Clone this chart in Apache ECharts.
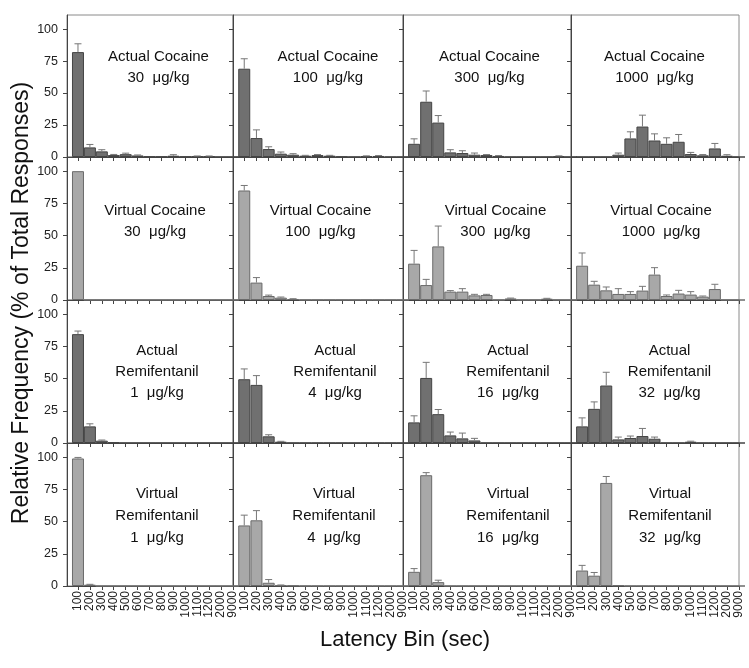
<!DOCTYPE html>
<html><head><meta charset="utf-8">
<script src="https://cdn.jsdelivr.net/npm/echarts@6/dist/echarts.min.js"></script>
<style>html,body{margin:0;padding:0;background:#fff}#c{width:749px;height:668px}</style>
</head><body><div id="c"></div>
<script>
const categories = ['100','200','300','400','500','600','700','800','900','1000','1100','1200','2000','9000'];
const yTicks = [0, 25, 50, 75, 100];

// Row 1: Actual Cocaine
const actualCocaine30     = [82, 7.5, 4.4, 1.5, 2.2, 1.2, 0.4, 0.3, 1, 0.3, 0.5, 0.5, 0, 0];
const actualCocaine30Err  = [6.5, 2.3, 1.3, 0.5, 0.8, 0.4, 0, 0, 0.8, 0, 0.3, 0.3, 0, 0];
const actualCocaine100    = [69, 14.8, 6.2, 2.6, 1.8, 1, 1.5, 1, 0.3, 0, 0.6, 0.8, 0, 0];
const actualCocaine100Err = [7.8, 6.4, 1.8, 1.3, 0.8, 0.3, 0.4, 0.3, 0, 0, 0.3, 0.3, 0, 0];
const actualCocaine300    = [10.3, 43.2, 26.9, 3.6, 3.1, 1.8, 1.5, 0.8, 0, 0, 0, 0, 0.6, 0];
const actualCocaine300Err = [3.9, 8.4, 5.5, 2.1, 1.8, 1.3, 0.4, 0.3, 0, 0, 0, 0, 0.3, 0];
const actualCocaine1000    = [0, 0, 0, 1.8, 14.5, 23.8, 12.9, 10.3, 11.9, 2.3, 1.3, 6.7, 1, 0];
const actualCocaine1000Err = [0, 0, 0, 1.3, 5.2, 8.9, 5.2, 4.7, 5.7, 1.3, 0.6, 3.9, 0.8, 0];

// Row 2: Virtual Cocaine
const virtualCocaine30     = [100, 0, 0, 0, 0, 0, 0, 0, 0, 0, 0, 0, 0, 0];
const virtualCocaine30Err  = [0, 0, 0, 0, 0, 0, 0, 0, 0, 0, 0, 0, 0, 0];
const virtualCocaine100    = [85, 13.5, 3.1, 1.8, 0.8, 0, 0, 0, 0, 0, 0, 0, 0, 0];
const virtualCocaine100Err = [3.9, 3.9, 0.7, 0.5, 0.2, 0, 0, 0, 0, 0, 0, 0, 0, 0];
const virtualCocaine300    = [28.2, 11.6, 41.6, 6.5, 6.5, 3.6, 3.9, 0, 1.2, 0, 0, 1, 0, 0];
const virtualCocaine300Err = [10.3, 4.4, 15.8, 0.8, 2.3, 0.8, 0.5, 0, 0.3, 0, 0, 0.3, 0, 0];
const virtualCocaine1000    = [26.6, 11.9, 7.5, 4.7, 4.7, 7.3, 19.7, 3.1, 5, 4.2, 2.6, 8.5, 0, 0];
const virtualCocaine1000Err = [9.9, 2.6, 2.6, 4.1, 1.8, 3.3, 5.4, 0.8, 2.5, 2.3, 0.5, 3.7, 0, 0];

// Row 3: Actual Remifentanil
const actualRemi1     = [84.5, 12.9, 1.8, 0.5, 0, 0, 0, 0, 0, 0, 0, 0, 0, 0];
const actualRemi1Err  = [2.4, 2, 0.5, 0, 0, 0, 0, 0, 0, 0, 0, 0, 0, 0];
const actualRemi4     = [49.5, 45.1, 5.2, 1, 0, 0, 0, 0, 0, 0, 0, 0, 0, 0];
const actualRemi4Err  = [8, 7.2, 1.2, 0.3, 0, 0, 0, 0, 0, 0, 0, 0, 0, 0];
const actualRemi16    = [16, 50.5, 22.4, 5.9, 3.6, 2, 0, 0, 0, 0, 0, 0, 0, 0];
const actualRemi16Err = [5.1, 12.1, 3.6, 2.6, 4.1, 1.6, 0, 0, 0, 0, 0, 0, 0, 0];
const actualRemi32    = [12.9, 26.5, 44.6, 2.8, 3.9, 5.4, 3.3, 0, 0, 1, 0, 0, 0, 0];
const actualRemi32Err = [6.6, 5.4, 10.3, 1.8, 1.5, 5.9, 1.3, 0, 0, 0.4, 0, 0, 0, 0];

// Row 4: Virtual Remifentanil
const virtualRemi1     = [99, 1, 0, 0, 0, 0, 0, 0, 0, 0, 0, 0, 0, 0];
const virtualRemi1Err  = [0.8, 0.3, 0, 0, 0, 0, 0, 0, 0, 0, 0, 0, 0, 0];
const virtualRemi4     = [47, 51, 2.5, 0.5, 0.3, 0, 0, 0, 0, 0, 0, 0, 0, 0];
const virtualRemi4Err  = [8, 7.5, 2.5, 0.3, 0, 0, 0, 0, 0, 0, 0, 0, 0, 0];
const virtualRemi16    = [11, 86, 3, 0, 0, 0, 0, 0, 0, 0, 0, 0, 0, 0];
const virtualRemi16Err = [2.5, 2, 1.5, 0, 0, 0, 0, 0, 0, 0, 0, 0, 0, 0];
const virtualRemi32    = [12, 8, 80, 0.5, 0, 0, 0, 0, 0, 0, 0, 0, 0, 0];
const virtualRemi32Err = [4, 2.5, 5, 0, 0, 0, 0, 0, 0, 0, 0, 0, 0, 0];

const panelTexts = [
  ['Actual Cocaine', '30  \u03bcg/kg'], ['Actual Cocaine', '100  \u03bcg/kg'], ['Actual Cocaine', '300  \u03bcg/kg'], ['Actual Cocaine', '1000  \u03bcg/kg'],
  ['Virtual Cocaine', '30  \u03bcg/kg'], ['Virtual Cocaine', '100  \u03bcg/kg'], ['Virtual Cocaine', '300  \u03bcg/kg'], ['Virtual Cocaine', '1000  \u03bcg/kg'],
  ['Actual', 'Remifentanil', '1  \u03bcg/kg'], ['Actual', 'Remifentanil', '4  \u03bcg/kg'], ['Actual', 'Remifentanil', '16  \u03bcg/kg'], ['Actual', 'Remifentanil', '32  \u03bcg/kg'],
  ['Virtual', 'Remifentanil', '1  \u03bcg/kg'], ['Virtual', 'Remifentanil', '4  \u03bcg/kg'], ['Virtual', 'Remifentanil', '16  \u03bcg/kg'], ['Virtual', 'Remifentanil', '32  \u03bcg/kg']
];
const yTitle = 'Relative Frequency (% of Total Responses)';
const xTitle = 'Latency Bin (sec)';

const panelData = [
  [actualCocaine30, actualCocaine30Err], [actualCocaine100, actualCocaine100Err], [actualCocaine300, actualCocaine300Err], [actualCocaine1000, actualCocaine1000Err],
  [virtualCocaine30, virtualCocaine30Err], [virtualCocaine100, virtualCocaine100Err], [virtualCocaine300, virtualCocaine300Err], [virtualCocaine1000, virtualCocaine1000Err],
  [actualRemi1, actualRemi1Err], [actualRemi4, actualRemi4Err], [actualRemi16, actualRemi16Err], [actualRemi32, actualRemi32Err],
  [virtualRemi1, virtualRemi1Err], [virtualRemi4, virtualRemi4Err], [virtualRemi16, virtualRemi16Err], [virtualRemi32, virtualRemi32Err]
];

// layout
const FONT = 'Liberation Sans, Arial, sans-serif';
const colLefts = [67, 233, 403, 571, 739];
const rowTops = [15, 157, 300, 443, 586];
const textCx = [[158.5, 328, 489.5, 654.5], [155, 320.5, 495.5, 661], [157, 335, 508, 669.5], [157, 334, 508, 670]];
const textBase = [61.7, 216, 355.7, 499];
const textStep = [21.7, 21.3, 21.3, 22];

const grids = [], xAxes = [], yAxes = [], series = [], graphics = [];
const xTickVals = categories.map((_, k) => k + 1);

for (let r = 0; r < 4; r++) {
  for (let c = 0; c < 4; c++) {
    const i = r * 4 + c;
    const actual = (r % 2 === 0);
    grids.push({
      left: colLefts[c], top: rowTops[r],
      width: colLefts[c + 1] - colLefts[c], height: rowTops[r + 1] - rowTops[r],
      show: true, borderColor: '#8a8a8a', borderWidth: 1, backgroundColor: 'transparent'
    });
    xAxes.push({
      type: 'value', gridIndex: i, min: 0.08, max: 14,
      axisLine: { show: true, onZero: false, lineStyle: { color: '#444', width: 1 } },
      axisTick: { show: true, customValues: xTickVals, length: 4, lineStyle: { color: '#444' } },
      axisLabel: {
        show: r === 3, customValues: xTickVals, rotate: 90, margin: 5,
        formatter: v => categories[Math.round(v) - 1] || '',
        fontSize: 12, color: '#222', fontFamily: FONT
      },
      splitLine: { show: false }
    });
    yAxes.push({
      type: 'value', gridIndex: i, min: 0, max: 111,
      axisLine: { show: true, onZero: false, lineStyle: { color: '#444', width: 1 } },
      axisTick: { show: true, customValues: yTicks, length: 4, lineStyle: { color: '#444' } },
      axisLabel: { show: c === 0, customValues: yTicks, margin: 9, fontSize: 12.5, color: '#222', fontFamily: FONT },
      splitLine: { show: false }
    });
    const vals = panelData[i][0], errs = panelData[i][1];
    series.push({
      type: 'bar', xAxisIndex: i, yAxisIndex: i, barWidth: 12,
      itemStyle: actual ? { color: '#707070', borderColor: '#444', borderWidth: 1 }
                        : { color: '#a8a8a8', borderColor: '#6a6a6a', borderWidth: 1 },
      data: vals.map((v, k) => [k + 1, v]),
      silent: true, animation: false
    });
    series.push({
      type: 'custom', xAxisIndex: i, yAxisIndex: i, z: 5, silent: true, animation: false,
      data: vals.map((v, k) => [k + 1, v, errs[k]]),
      encode: { x: 0, y: 1 },
      renderItem: function (params, api) {
        const x = api.value(0), v = api.value(1), e = api.value(2);
        if (!(e > 0)) return null;
        const p0 = api.coord([x, v]);
        const p1 = api.coord([x, v + e]);
        const st = { stroke: '#777', lineWidth: 1 };
        return {
          type: 'group', children: [
            { type: 'line', shape: { x1: p0[0], y1: p0[1], x2: p1[0], y2: p1[1] }, style: st },
            { type: 'line', shape: { x1: p1[0] - 3.5, y1: p1[1], x2: p1[0] + 3.5, y2: p1[1] }, style: st }
          ]
        };
      }
    });
    panelTexts[i].forEach((line, li) => {
      graphics.push({
        type: 'text', silent: true, z: 10,
        x: textCx[r][c], y: textBase[r] + li * textStep[r] - 5.2,
        style: { text: line, align: 'center', verticalAlign: 'middle', fontSize: 15, fontFamily: FONT, fill: '#111' }
      });
    });
  }
}

graphics.push({
  type: 'text', silent: true, x: 22, y: 303, rotation: Math.PI / 2,
  style: { text: yTitle, align: 'center', verticalAlign: 'middle', fontSize: 23, fontFamily: FONT, fill: '#111' }
});
graphics.push({
  type: 'text', silent: true, x: 405, y: 640,
  style: { text: xTitle, align: 'center', verticalAlign: 'middle', fontSize: 22, fontFamily: FONT, fill: '#111' }
});

const chart = echarts.init(document.getElementById('c'), null, { renderer: 'canvas' });
chart.setOption({
  backgroundColor: '#fff',
  animation: false,
  grid: grids, xAxis: xAxes, yAxis: yAxes, series: series, graphic: graphics
});
</script></body></html>
